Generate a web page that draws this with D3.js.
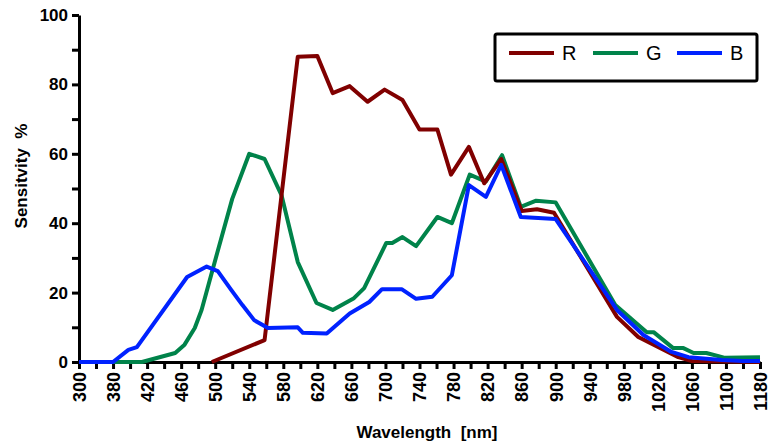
<!DOCTYPE html>
<html>
<head>
<meta charset="utf-8">
<script src="https://cdn.jsdelivr.net/npm/d3@7"></script>
<style>
  body { margin: 0; background: #fff; }
  svg text { font-family: Arial, "Liberation Sans", sans-serif; }
</style>
</head>
<body>
<svg id="chart" width="768" height="443"></svg>
<script>
// series
var seriesNames = ["R", "G", "B"];
var seriesColors = ["#800000", "#00834a", "#0022ff"];

var rWave = [496, 558, 597, 620, 638, 658, 679, 699, 720, 740, 761, 777, 798, 816, 836, 860, 878, 898, 972, 997, 1044, 1060, 1180];
var rVal  = [0, 6.3, 88, 88.2, 77.5, 79.5, 75, 78.5, 75.5, 67, 67, 54, 62, 51.5, 58.5, 43.5, 44, 43, 13, 7.2, 1.4, 0.3, 0];

var gWave = [300, 414, 453, 464, 476, 484, 503, 520, 540, 558, 578, 597, 619, 638, 663, 675, 701, 708, 720, 736, 761, 778, 799, 818, 837, 859, 877, 900, 970, 1007, 1015, 1038, 1050, 1062, 1077, 1099, 1180];
var gVal  = [0, 0, 2.6, 5, 9.8, 15, 32, 47, 60, 58.5, 48, 28.8, 17, 15, 18.4, 21.3, 34.3, 34.3, 36, 33.4, 41.8, 40, 54, 52, 59.6, 44.7, 46.5, 46, 16.4, 8.6, 8.6, 4, 4, 2.6, 2.6, 1.2, 1.4];

var bWave = [300, 380, 398, 408, 467, 490, 503, 519, 532, 546, 562, 597, 603, 631, 658, 681, 696, 719, 736, 755, 778, 798, 818, 836, 859, 900, 972, 1003, 1036, 1056, 1095, 1140, 1180];
var bVal  = [0, 0, 3.5, 4.3, 24.5, 27.5, 26.2, 20.7, 16.4, 12, 9.8, 10, 8.4, 8.2, 14, 17.3, 21, 21, 18.2, 18.8, 25, 51, 47.6, 56.8, 41.8, 41.2, 15, 7.8, 2.9, 1.4, 0.6, 0.3, 0.3];

// axis ticks and labels
var xTicks = [300, 340, 380, 400, 420, 440, 460, 480, 500, 520, 540, 560, 580, 600, 620, 640, 660, 680, 700, 720, 740, 760, 780, 800, 820, 840, 860, 880, 900, 920, 940, 960, 980, 1000, 1020, 1040, 1060, 1080, 1100, 1140, 1180];
var xTickLabels = [300, 380, 420, 460, 500, 540, 580, 620, 660, 700, 740, 780, 820, 860, 900, 940, 980, 1020, 1060, 1100, 1180];
var yTicks = [0, 10, 20, 30, 40, 50, 60, 70, 80, 90, 100];
var yTickLabels = [0, 20, 40, 60, 80, 100];

var svg = d3.select("#chart");

var plotL = 79, plotR = 760, plotT = 15, plotB = 362;
var step = (plotR - plotL) / 40;

// the original axis is uneven at both ends, so use a piecewise scale
var x = d3.scaleLinear()
    .domain([300, 380, 1100, 1180])
    .range([plotL, plotL + 2 * step, plotL + 38 * step, plotR]);

var y = d3.scaleLinear()
    .domain([0, 100])
    .range([plotB, plotT]);

// x axis
var gx = svg.append("g")
    .attr("transform", "translate(0," + plotB + ")")
    .call(d3.axisBottom(x)
        .tickValues(xTicks)
        .tickSizeInner(7)
        .tickSizeOuter(0)
        .tickFormat(function(d) { return xTickLabels.indexOf(d) >= 0 ? d : ""; }));

gx.select(".domain").attr("stroke", "#000").attr("stroke-width", 3);
gx.selectAll(".tick line").attr("stroke", "#000").attr("stroke-width", 3);
gx.selectAll(".tick text")
    .attr("transform", "rotate(-90)")
    .attr("x", -10)
    .attr("y", 0)
    .attr("dy", "0.35em")
    .style("text-anchor", "end")
    .style("font-size", "18px")
    .style("font-weight", "bold")
    .attr("fill", "#000");

// y axis
var gy = svg.append("g")
    .attr("transform", "translate(" + plotL + ",0)")
    .call(d3.axisLeft(y)
        .tickValues(yTicks)
        .tickSizeInner(7)
        .tickSizeOuter(0)
        .tickPadding(4)
        .tickFormat(function(d) { return yTickLabels.indexOf(d) >= 0 ? d : ""; }));

gy.select(".domain").attr("stroke", "#000").attr("stroke-width", 3);
gy.selectAll(".tick line").attr("stroke", "#000").attr("stroke-width", 3);
gy.selectAll(".tick text")
    .style("font-size", "17px")
    .style("font-weight", "bold")
    .attr("fill", "#000");

// axis titles
svg.append("text")
    .attr("x", 427)
    .attr("y", 438)
    .attr("text-anchor", "middle")
    .style("font-size", "17px")
    .style("font-weight", "bold")
    .style("white-space", "pre")
    .text("Wavelength  [nm]");

svg.append("text")
    .attr("transform", "translate(27,176) rotate(-90)")
    .attr("text-anchor", "middle")
    .style("font-size", "17px")
    .style("font-weight", "bold")
    .style("white-space", "pre")
    .text("Sensitvity  %");

// lines
var series = [
    { name: "G", color: seriesColors[1], pts: gWave.map(function(w, i) { return { w: w, v: gVal[i] }; }) },
    { name: "R", color: seriesColors[0], pts: rWave.map(function(w, i) { return { w: w, v: rVal[i] }; }) },
    { name: "B", color: seriesColors[2], pts: bWave.map(function(w, i) { return { w: w, v: bVal[i] }; }) }
];

var line = d3.line()
    .x(function(d) { return x(d.w); })
    .y(function(d) { return y(d.v); });

svg.selectAll("path.series")
    .data(series)
    .enter()
    .append("path")
    .attr("class", "series")
    .attr("d", function(d) { return line(d.pts); })
    .attr("fill", "none")
    .attr("stroke", function(d) { return d.color; })
    .attr("stroke-width", 4)
    .attr("stroke-linejoin", "round");

// legend
var legend = svg.append("g");
legend.append("rect")
    .attr("x", 495)
    .attr("y", 34)
    .attr("width", 262)
    .attr("height", 47)
    .attr("rx", 2)
    .attr("fill", "#fff")
    .attr("stroke", "#000")
    .attr("stroke-width", 3);

var items = legend.selectAll("g.item")
    .data(seriesNames)
    .enter()
    .append("g")
    .attr("class", "item")
    .attr("transform", function(d, i) { return "translate(" + (509 + i * 84) + ",0)"; });

items.append("line")
    .attr("x1", 0)
    .attr("x2", 45)
    .attr("y1", 53)
    .attr("y2", 53)
    .attr("stroke", function(d, i) { return seriesColors[i]; })
    .attr("stroke-width", 4);

items.append("text")
    .attr("x", 53)
    .attr("y", 60)
    .style("font-size", "20px")
    .text(function(d) { return d; });
</script>
</body>
</html>
